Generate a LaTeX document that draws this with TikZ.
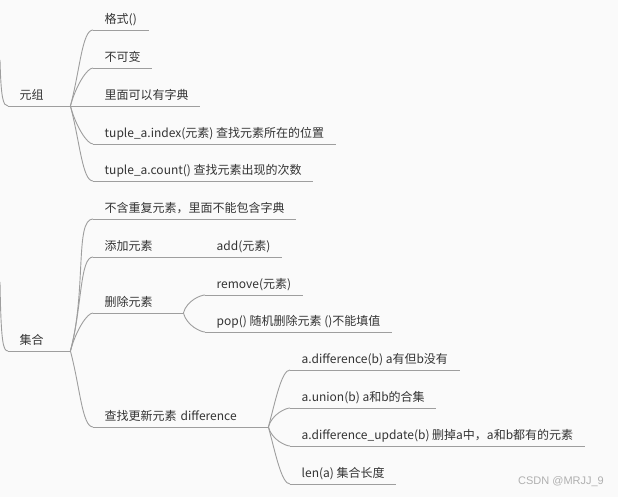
\documentclass[tikz,border=0pt]{standalone}
\usepackage{fontspec}
\setmainfont{Noto Sans CJK SC}
\newfontfamily\markfont{Liberation Sans}
\definecolor{INK}{HTML}{333333}
\definecolor{LINE}{HTML}{9E9E9E}
\definecolor{BG}{HTML}{FAFAFA}
\definecolor{MARK}{HTML}{B0B0B0}

\begin{document}
\begin{tikzpicture}[
    x=1pt, y=1pt,
    wire/.style={draw=LINE, line width=0.9pt},
    topic/.style={anchor=south west, inner xsep=11.5pt, inner ysep=4pt,
      text height=9.5pt, text depth=2.5pt, text=INK,
      font=\fontsize{12}{14}\selectfont},
    hub/.style={topic, text width=#1, align=left},
    rise/.style={out=75, in=180, out looseness=1.2, in looseness=0.35},
    fall/.style={out=-75, in=180, out looseness=1.2, in looseness=0.35},
    flat/.style={},
  ]

  % canvas
  \fill[BG] (0,0) rectangle (618,-497);
  \useasboundingbox (0,0) rectangle (618,-497);

  % tuple branch
  \node[hub=39pt] (yz) at (8,-106) {元组};
  \node[topic] (gs)  at (93,-30)  {格式()};
  \node[topic] (bkb) at (93,-68)  {不可变};
  \node[topic] (lm)  at (93,-106) {里面可以有字典};
  \node[topic] (idx) at (93,-144) {tuple\_a.index(元素) 查找元素所在的位置};
  \node[topic] (cnt) at (93,-181) {tuple\_a.count() 查找元素出现的次数};

  % set branch
  \node[hub=39pt] (jh) at (8,-351) {集合};
  \node[topic] (bh) at (93,-219) {不含重复元素，里面不能包含字典};
  \node[hub=67pt] (tj) at (93,-257) {添加元素};
  \node[topic] (add) at (205,-257) {add(元素)};
  \node[hub=67pt] (sc) at (93,-313) {删除元素};
  \node[topic] (rm)  at (205,-295) {remove(元素)};
  \node[topic] (pop) at (205,-332) {pop() 随机删除元素 ()不能填值};
  \node[hub=152pt] (cz) at (93,-427) {查找更新元素 difference};
  \node[topic] (df) at (290,-370) {a.difference(b) a有但b没有};
  \node[topic] (un) at (290,-408) {a.union(b) a和b的合集};
  \node[topic] (du) at (290,-446) {a.difference\_update(b) 删掉a中，a和b都有的元素};
  \node[topic] (ln) at (290,-484) {len(a) 集合长度};

  % underlines
  \foreach \n in {yz,gs,bkb,lm,idx,cnt,jh,bh,tj,add,sc,rm,pop,cz,df,un,du,ln}
    \draw[wire] (\n.south west) -- (\n.south east);

  % connectors
  \foreach \p/\c/\s in {yz/gs/rise, yz/bkb/rise, yz/lm/flat, yz/idx/fall, yz/cnt/fall,
      jh/bh/rise, jh/tj/rise, jh/sc/rise, jh/cz/fall, tj/add/flat,
      sc/rm/rise, sc/pop/fall, cz/df/rise, cz/un/rise, cz/du/fall, cz/ln/fall}
    \draw[wire] (\p.south east) to[\s] (\c.south west);

  % tails from the root (off the left edge)
  \coordinate (tailA) at (0,-60);
  \coordinate (tailB) at (0,-282);
  \draw[wire] (tailA) .. controls +(1,-38) and +(-5,0) .. (yz.south west);
  \draw[wire] (tailB) .. controls +(1,-60) and +(-5,0) .. (jh.south west);

  % watermark
  \node[text=MARK, font=\markfont\fontsize{11}{13}\selectfont] (mark) at (561,-482) {CSDN @MRJJ\_9};

\end{tikzpicture}
\end{document}
